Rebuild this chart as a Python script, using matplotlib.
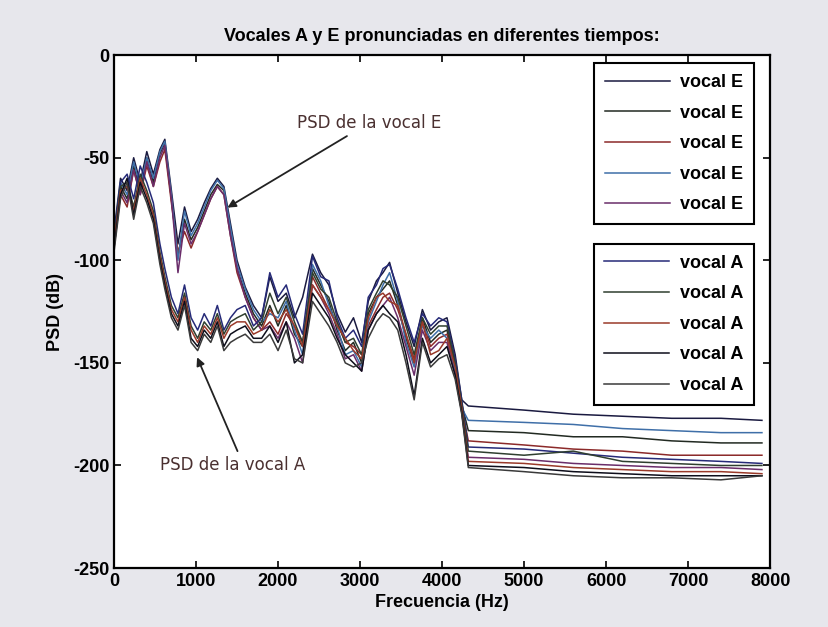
import matplotlib
matplotlib.use('Agg')
import matplotlib.pyplot as plt

plt.rcParams['axes.unicode_minus'] = False  # guion normal en los negativos

# frecuencias comunes (Hz)
freq = [0, 80, 160, 240, 320, 400, 480, 560, 620, 700,
        780, 860, 940, 1020, 1100, 1180, 1260, 1340, 1420, 1500,
        1600, 1700, 1800, 1900, 2000, 2100, 2200, 2300, 2420, 2520,
        2620, 2720, 2820, 2920, 3020, 3100, 3200, 3280, 3360, 3460,
        3560, 3660, 3760, 3860, 3960, 4060, 4160, 4240, 4320, 5000,
        5600, 6200, 6800, 7400, 7900]

# PSD (dB) vocal E
e1 = [-86, -60, -66, -50, -62, -47, -58, -46, -41, -66, -92, -74, -86, -80, -72, -65, -60, -64, -82, -100, -113, -122, -128, -108,
      -120, -116, -128, -118, -97, -106, -112, -126, -135, -128, -140, -120, -110, -106, -101, -116, -130, -142, -124, -134, -130, -128, -146, -168,
      -171, -173, -175, -176, -177, -177, -178]
e2 = [-90, -64, -70, -54, -66, -50, -62, -48, -43, -70, -98, -80, -90, -84, -76, -68, -63, -66, -86, -104, -116, -126, -132, -122,
      -132, -122, -136, -142, -104, -112, -120, -134, -144, -140, -150, -126, -118, -114, -110, -122, -138, -150, -128, -140, -136, -134, -152, -170,
      -183, -184, -186, -186, -188, -189, -189]
e3 = [-88, -68, -74, -56, -68, -54, -64, -52, -46, -72, -96, -86, -94, -86, -78, -70, -64, -68, -88, -106, -118, -128, -134, -130,
      -136, -126, -132, -140, -108, -116, -124, -130, -140, -142, -146, -132, -124, -118, -116, -124, -136, -148, -130, -142, -138, -136, -150, -172,
      -188, -190, -192, -193, -195, -195, -195]
e4 = [-92, -62, -68, -52, -64, -50, -60, -47, -42, -68, -100, -76, -88, -82, -74, -66, -61, -65, -84, -102, -114, -124, -130, -126,
      -128, -120, -134, -146, -102, -110, -122, -132, -146, -144, -152, -130, -120, -112, -106, -120, -140, -152, -132, -138, -134, -138, -154, -172,
      -178, -179, -180, -182, -183, -184, -184]
e5 = [-94, -66, -72, -56, -68, -52, -64, -50, -44, -70, -106, -82, -92, -86, -78, -70, -64, -68, -88, -104, -118, -128, -134, -132,
      -138, -130, -138, -150, -112, -118, -126, -136, -148, -146, -154, -134, -126, -122, -118, -128, -142, -156, -134, -144, -140, -140, -156, -174,
      -196, -197, -199, -200, -201, -201, -202]

# PSD (dB) vocal A
a1 = [-88, -62, -58, -70, -54, -62, -72, -92, -104, -118, -126, -112, -128, -134, -126, -132, -122, -134, -128, -124, -122, -132, -128, -106,
      -118, -112, -126, -136, -98, -108, -110, -128, -138, -134, -142, -118, -112, -104, -102, -114, -128, -140, -126, -132, -128, -130, -148, -168,
      -191, -192, -194, -196, -197, -198, -199]
a2 = [-90, -64, -62, -74, -58, -66, -76, -96, -108, -122, -128, -116, -132, -138, -130, -134, -126, -136, -130, -128, -126, -134, -130, -116,
      -126, -118, -130, -140, -106, -114, -118, -130, -140, -138, -146, -124, -116, -110, -112, -118, -132, -146, -128, -136, -132, -132, -150, -170,
      -193, -195, -193, -198, -199, -200, -200]
a3 = [-92, -66, -64, -76, -60, -68, -78, -98, -110, -124, -130, -118, -134, -140, -132, -136, -128, -138, -132, -130, -130, -136, -134, -124,
      -130, -124, -132, -142, -112, -118, -124, -132, -138, -144, -148, -128, -118, -116, -120, -122, -136, -150, -130, -146, -144, -138, -152, -172,
      -198, -199, -201, -202, -203, -203, -204]
a4 = [-94, -68, -60, -78, -62, -70, -80, -100, -112, -126, -132, -120, -138, -142, -134, -138, -130, -142, -136, -134, -132, -138, -138, -132,
      -140, -130, -150, -146, -116, -122, -128, -138, -146, -150, -154, -134, -126, -122, -126, -130, -146, -166, -138, -150, -146, -142, -156, -174,
      -200, -201, -203, -204, -205, -205, -205]
a5 = [-96, -70, -62, -80, -64, -72, -82, -102, -114, -128, -134, -122, -140, -144, -136, -140, -132, -144, -140, -138, -136, -140, -140, -136,
      -144, -134, -148, -150, -120, -126, -132, -140, -150, -152, -150, -138, -130, -126, -128, -134, -150, -168, -140, -152, -148, -146, -158, -175,
      -201, -203, -205, -206, -206, -207, -205]

vocal_e = [e1, e2, e3, e4, e5]
vocal_a = [a1, a2, a3, a4, a5]
colores_e = ['#1a1a40', '#222a22', '#8c2a2a', '#3f6fa8', '#6a2d6a']
colores_a = ['#262a78', '#2f3f2f', '#9a3a2a', '#0d0d1a', '#3a3a3a']

fuente = ['Liberation Sans Narrow', 'Liberation Sans', 'DejaVu Sans']

fig = plt.figure(figsize=(8.29, 6.27), dpi=100)
fig.patch.set_facecolor('#e7e7ec')
ax = fig.add_axes([0.1375, 0.094, 0.7915, 0.818])
ax.set_facecolor('white')

lineas_e = []
for y, c in zip(vocal_e, colores_e):
    l, = ax.plot(freq, y, color=c, lw=1.1)
    lineas_e.append(l)
lineas_a = []
for y, c in zip(vocal_a, colores_a):
    l, = ax.plot(freq, y, color=c, lw=1.1)
    lineas_a.append(l)

ax.set_xlim(0, 8000)
ax.set_ylim(-250, 0)
ax.set_xticks(range(0, 8001, 1000))
ax.set_yticks(range(-250, 1, 50))
ax.tick_params(direction='in', top=True, right=True, length=5, width=1.2)
for lab in ax.get_xticklabels() + ax.get_yticklabels():
    lab.set_family(fuente)
    lab.set_fontsize(13)
    lab.set_fontweight('bold')
for s in ax.spines.values():
    s.set_linewidth(1.6)

ax.set_title('Vocales A y E pronunciadas en diferentes tiempos:', family=fuente,
             fontsize=13, fontweight='bold', pad=10)
ax.set_xlabel('Frecuencia (Hz)', family=fuente, fontsize=13, fontweight='bold', labelpad=3)
ax.set_ylabel('PSD (dB)', family=fuente, fontsize=13, fontweight='bold', labelpad=6)

props = dict(prop={'family': fuente, 'size': 13, 'weight': 'bold'}, frameon=True,
             fancybox=False, edgecolor='black', framealpha=1, handlelength=3.6,
             labelspacing=0.75, borderaxespad=0, handletextpad=0.6, borderpad=0.6)
leg1 = ax.legend(lineas_e, ['vocal E'] * 5, loc='upper right',
                 bbox_to_anchor=(0.976, 0.984), **props)
leg1.get_frame().set_linewidth(1.5)
ax.add_artist(leg1)
leg2 = ax.legend(lineas_a, ['vocal A'] * 5, loc='upper right',
                 bbox_to_anchor=(0.976, 0.632), **props)
leg2.get_frame().set_linewidth(1.5)

ax.annotate('PSD de la vocal E', xy=(1354, -75), xytext=(2230, -33),
            fontsize=12, color='#4a3030', va='center',
            arrowprops=dict(arrowstyle='-|>', color='#222222', lw=1.3))
ax.annotate('PSD de la vocal A', xy=(1000, -146), xytext=(560, -200),
            fontsize=12, color='#4a3030', va='center',
            arrowprops=dict(arrowstyle='-|>', color='#222222', lw=1.3,
                            relpos=(0.55, 1.0)))

fig.savefig('out.png', dpi=100, facecolor=fig.get_facecolor())
